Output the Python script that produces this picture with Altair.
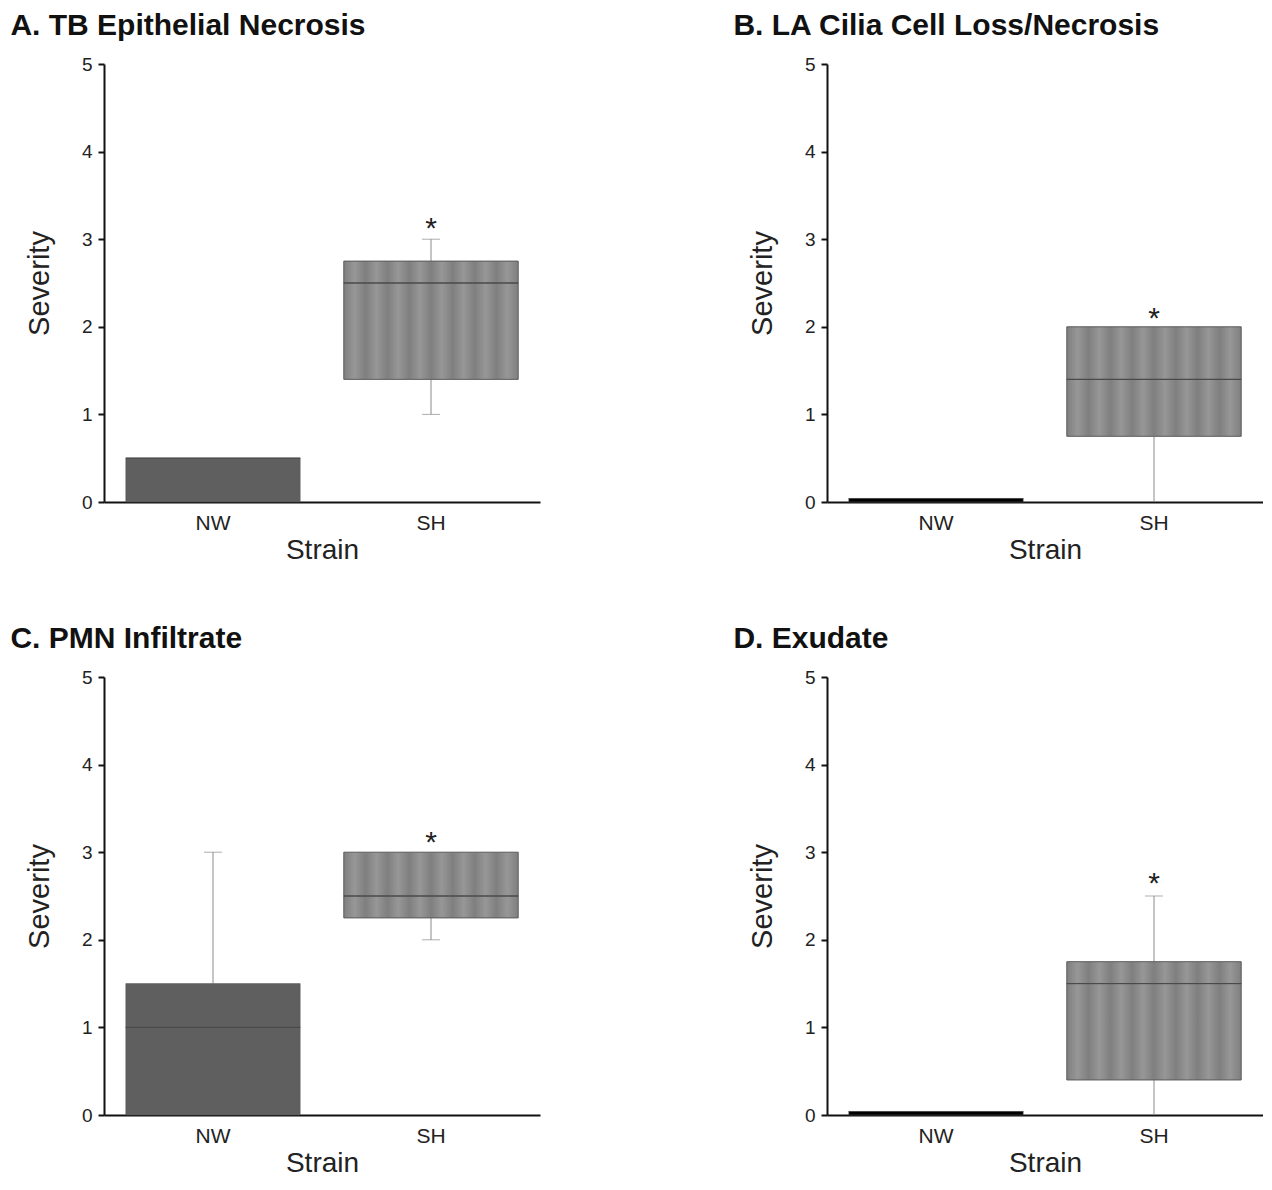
import altair as alt
import pandas as pd

panel_titles = ["A. TB Epithelial Necrosis", "B. LA Cilia Cell Loss/Necrosis",
                "C. PMN Infiltrate", "D. Exudate"]
strains = ["NW", "SH"]
whisker_low = [[0.0, 1.0], [0.0, 0.0], [0.0, 2.0], [0.0, 0.0]]
box_q1 = [[0.0, 1.4], [0.0, 0.75], [0.0, 2.25], [0.0, 0.4]]
box_median = [[0.5, 2.5], [0.04, 1.4], [1.0, 2.5], [0.04, 1.5]]
box_q3 = [[0.5, 2.75], [0.04, 2.0], [1.5, 3.0], [0.04, 1.75]]
whisker_high = [[0.5, 3.0], [0.04, 2.0], [3.0, 3.0], [0.04, 2.5]]
significance = [["", "*"], ["", "*"], ["", "*"], ["", "*"]]
star_level = [[0.0, 3.2], [0.0, 2.17], [0.0, 3.18], [0.0, 2.72]]
y_ticks = [0, 1, 2, 3, 4, 5]

FONT = "Liberation Sans"
W, H = 436, 438

stops = []
n_stripes = 8
for k in range(2 * n_stripes + 1):
    stops.append(alt.GradientStop(color="#7f7f7f" if k % 2 == 0 else "#979797",
                                  offset=k / (2 * n_stripes)))
stripe_fill = alt.Gradient(gradient="linear", stops=stops, x1=0, x2=1, y1=0, y2=0)


def panel(i):
    df = pd.DataFrame({
        "strain": strains,
        "low": whisker_low[i],
        "q1": box_q1[i],
        "med": box_median[i],
        "q3": box_q3[i],
        "high": whisker_high[i],
        "sig": significance[i],
        "star": star_level[i],
    })
    x = alt.X("strain:N", sort=strains, title="Strain",
              scale=alt.Scale(paddingInner=0.2, paddingOuter=0.1),
              axis=alt.Axis(labelAngle=0, ticks=False, labelPadding=10,
                            titlePadding=3, labelFontSize=21, titleFontSize=28))
    yscale = alt.Scale(domain=[0, 5], nice=False)
    yaxis = alt.Axis(values=y_ticks, format="d", ticks=True, tickSize=6, tickWidth=2,
                     tickColor="#111", labelPadding=6, labelFontSize=19,
                     titleFontSize=29, titlePadding=27, grid=False)
    base = alt.Chart(df)
    whisk_up = base.mark_rule(color="#8a8a8a", strokeWidth=1).encode(
        x=x, y=alt.Y("q3:Q", scale=yscale, axis=yaxis, title="Severity"), y2="high:Q")
    whisk_lo = base.mark_rule(color="#8a8a8a", strokeWidth=1).encode(
        x=x, y=alt.Y("low:Q", scale=yscale), y2="q1:Q")
    cap_up = base.transform_filter(alt.datum.high > alt.datum.q3).mark_tick(
        color="#8a8a8a", size=18, thickness=1, orient="horizontal").encode(
        x=x, y=alt.Y("high:Q", scale=yscale))
    cap_lo = base.transform_filter(
        (alt.datum.low < alt.datum.q1) & (alt.datum.low > 0)).mark_tick(
        color="#8a8a8a", size=18, thickness=1, orient="horizontal").encode(
        x=x, y=alt.Y("low:Q", scale=yscale))
    box_nw = base.transform_filter(alt.datum.strain == "NW").mark_bar(
        stroke="#555555", strokeWidth=0.5).encode(
        x=x, y=alt.Y("q1:Q", scale=yscale), y2="q3:Q",
        fill=alt.condition(alt.datum.q3 < 0.1, alt.value("#000000"),
                           alt.value("#5f5f5f")))
    box_sh = base.transform_filter(alt.datum.strain == "SH").mark_bar(
        fill=stripe_fill, stroke="#5a5a5a", strokeWidth=1).encode(
        x=x, y=alt.Y("q1:Q", scale=yscale), y2="q3:Q")
    med = base.transform_filter(alt.datum.med > alt.datum.q1).mark_bar(
        fillOpacity=0, stroke="#4a4a4a", strokeWidth=1).encode(
        x=x, y=alt.Y("med:Q", scale=yscale), y2="med:Q")
    star = base.transform_filter(alt.datum.sig != "").mark_text(
        fontSize=30, font=FONT, color="#222", baseline="middle", dy=7).encode(
        x=x, y=alt.Y("star:Q", scale=yscale), text="sig:N")
    return alt.layer(whisk_up, whisk_lo, cap_up, cap_lo, box_nw, box_sh, med, star).properties(
        width=W, height=H,
        title=alt.TitleParams(panel_titles[i], anchor="start", fontSize=30,
                              fontWeight="bold", font=FONT, color="#111",
                              dx=-15, offset=14))


row1 = alt.hconcat(panel(0), panel(1), spacing=193)
row2 = alt.hconcat(panel(2), panel(3), spacing=193)
chart = alt.vconcat(row1, row2, spacing=60).properties(
    padding={"left": 2, "top": 3, "right": 0, "bottom": 0}
).configure_view(stroke=None).configure_axis(
    labelFont=FONT, titleFont=FONT, labelColor="#222", titleColor="#222",
    titleFontWeight="normal", domainColor="#111", domainWidth=2, grid=False
)

chart.save("out.html", embed_options={"renderer": "svg", "actions": False})
